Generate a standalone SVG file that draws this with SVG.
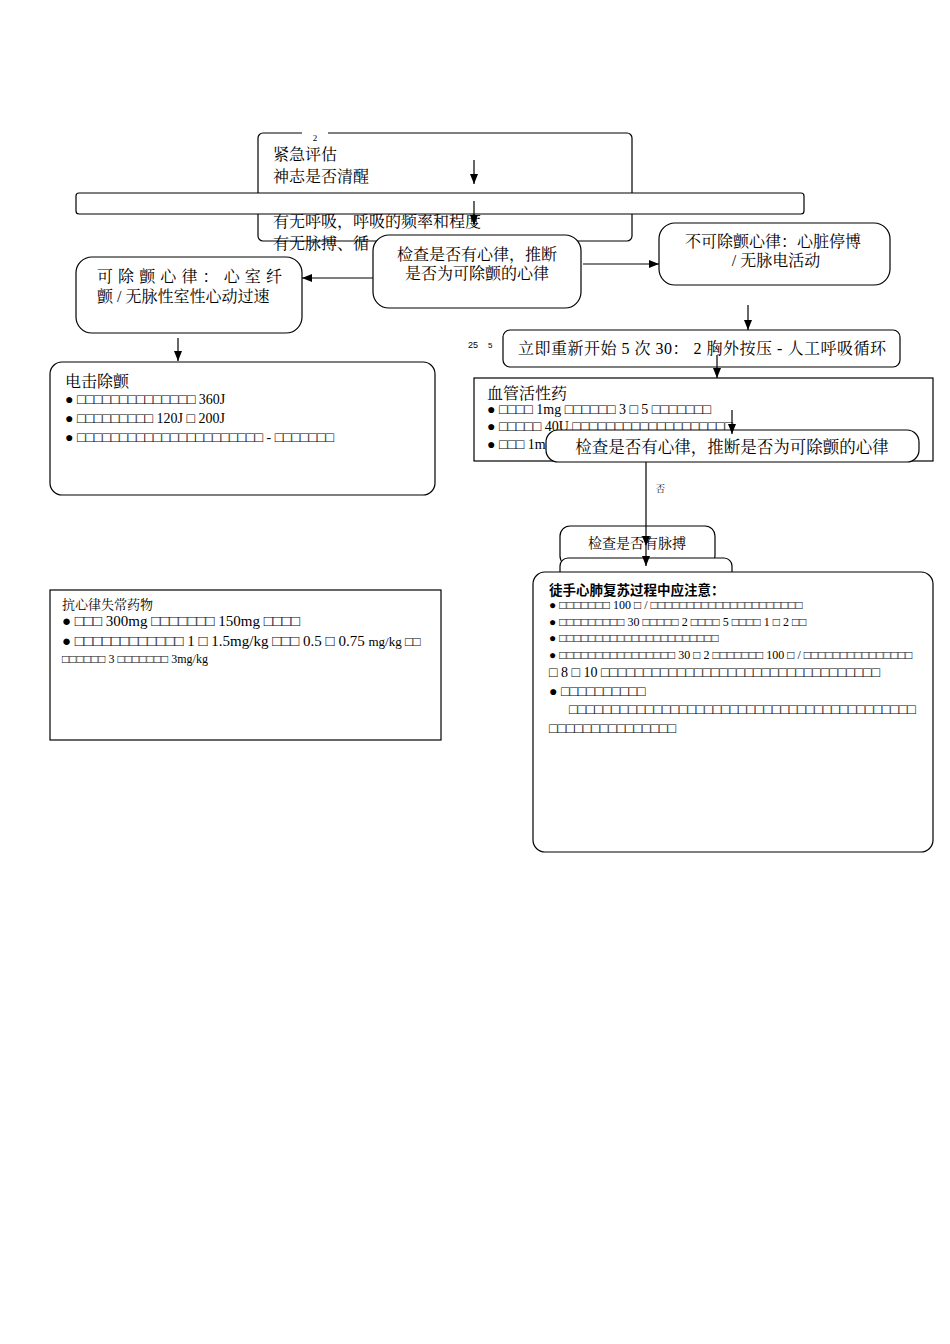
<svg xmlns="http://www.w3.org/2000/svg" width="950" height="1344" viewBox="0 0 950 1344">
<style>
.t{font-family:"Liberation Serif","Noto Serif CJK SC","Noto Sans CJK SC",serif;fill:#000}
.s{font-family:"Liberation Sans","Noto Sans CJK SC",sans-serif;fill:#000}
.box{fill:#fff;stroke:#000;stroke-width:1.2}
.ln{stroke:#000;stroke-width:1.2;fill:none}
.c{text-anchor:middle}
</style>
<defs>
<marker id="ah" markerUnits="userSpaceOnUse" markerWidth="10" markerHeight="10" viewBox="0 0 10 10" refX="10" refY="5" orient="auto">
<path d="M0,1 L10,5 L0,9 Z" fill="#000"/>
</marker>
</defs>
<rect width="950" height="1344" fill="#fff"/>
<g id="nodes">
<g id="n-assess">
<rect class="box" x="258" y="133" width="374" height="108" rx="5"/>
<rect x="302" y="130" width="26" height="6" fill="#fff"/>
<text class="t c" x="315" y="141" font-size="9">2</text>
<text class="t" x="273" y="160" font-size="16">紧急评估</text>
<text class="t" x="273" y="182" font-size="16">神志是否清醒</text>
<text class="t" x="273" y="227" font-size="16">有无呼吸，呼吸的频率和程度</text>
<text class="t" x="273" y="249" font-size="16">有无脉搏、循</text>
</g>
<g id="n-wide">
<rect class="box" x="76" y="193" width="728" height="21" rx="3"/>
</g>
<g id="n-check1">
<rect class="box" x="373" y="235" width="208" height="73" rx="16"/>
<text class="t c" x="477" y="260" font-size="16">检查是否有心律，推断</text>
<text class="t c" x="477" y="279" font-size="16">是否为可除颤的心律</text>
</g>
<g id="n-shockable">
<rect class="box" x="76" y="257" width="226" height="76" rx="16"/>
<text class="t" x="97" y="282" font-size="16" textLength="185" lengthAdjust="spacing">可除颤心律：心室纤</text>
<text class="t" x="97" y="302" font-size="16">颤 / 无脉性室性心动过速</text>
</g>
<g id="n-nonshockable">
<rect class="box" x="659" y="223" width="231" height="62" rx="16"/>
<text class="t c" x="773" y="247" font-size="16">不可除颤心律：心脏停博</text>
<text class="t c" x="776" y="266" font-size="16">/ 无脉电活动</text>
</g>
<g id="n-restart">
<text class="s" x="468" y="348" font-size="9">25</text>
<text class="s" x="488" y="348" font-size="8">5</text>
<rect class="box" x="503" y="330" width="397" height="37" rx="7"/>
<text class="t" x="518" y="354" font-size="16" textLength="368" lengthAdjust="spacing">立即重新开始 5 次 30： 2 胸外按压 - 人工呼吸循环</text>
</g>
<g id="n-vaso">
<rect class="box" x="474" y="378" width="459" height="83"/>
<text class="t" x="487" y="399" font-size="16">血管活性药</text>
<text class="t" x="487" y="414" font-size="14">● □□□□ 1mg □□□□□□ 3 □ 5 □□□□□□□</text>
<text class="t" x="487" y="431" font-size="14">● □□□□□ 40U □□□□□□□□□□□□□□□□□□□</text>
<text class="t" x="487" y="449" font-size="14">● □□□ 1m</text>
</g>
<g id="n-check2">
<rect class="box" x="546" y="430" width="373" height="32" rx="12"/>
<text class="t c" x="732" y="453" font-size="16.5">检查是否有心律，推断是否为可除颤的心律</text>
</g>
<g id="n-shock">
<rect class="box" x="50" y="362" width="385" height="133" rx="12"/>
<text class="t" x="65" y="387" font-size="16">电击除颤</text>
<text class="t" x="65" y="404" font-size="14">● □□□□□□□□□□□□□□ 360J</text>
<text class="t" x="65" y="423" font-size="14">● □□□□□□□□□ 120J □ 200J</text>
<text class="t" x="65" y="442" font-size="14">● □□□□□□□□□□□□□□□□□□□□□□ - □□□□□□□</text>
</g>
<g id="n-pulse">
<rect class="box" x="560" y="526" width="155" height="40" rx="10"/>
<text class="t c" x="637" y="548" font-size="14">检查是否有脉搏</text>
</g>
<g id="n-hidden">
<rect class="box" x="560" y="558" width="172" height="30" rx="8"/>
</g>
<g id="n-notes">
<rect class="box" x="533" y="572" width="400" height="280" rx="12"/>
<text class="s" x="549" y="595" font-size="13.5" font-weight="bold">徒手心肺复苏过程中应注意：</text>
<text class="t" x="549" y="609" font-size="12">● □□□□□□□ 100 □ / □□□□□□□□□□□□□□□□□□□□□</text>
<text class="t" x="549" y="626" font-size="12">● □□□□□□□□□ 30 □□□□□ 2 □□□□ 5 □□□□ 1 □ 2 □□</text>
<text class="t" x="549" y="642" font-size="12">● □□□□□□□□□□□□□□□□□□□□□□</text>
<text class="t" x="549" y="659" font-size="12">● □□□□□□□□□□□□□□□□ 30 □ 2 □□□□□□□ 100 □ / □□□□□□□□□□□□□□□</text>
<text class="t" x="549" y="677" font-size="14">□ 8 □ 10 □□□□□□□□□□□□□□□□□□□□□□□□□□□□□□□□□</text>
<text class="t" x="549" y="696" font-size="14">● □□□□□□□□□□</text>
<text class="t" x="569" y="714" font-size="14">□□□□□□□□□□□□□□□□□□□□□□□□□□□□□□□□□□□□□□□□□</text>
<text class="t" x="549" y="733" font-size="14">□□□□□□□□□□□□□□□</text>
</g>
<g id="n-antiarr">
<rect class="box" x="50" y="590" width="391" height="150"/>
<text class="t" x="62" y="609" font-size="13">抗心律失常药物</text>
<text class="t" x="62" y="626" font-size="15">● □□□ 300mg □□□□□□□ 150mg □□□□</text>
<text class="t" x="62" y="646" font-size="15">● □□□□□□□□□□□□ 1 □ 1.5mg/kg □□□ 0.5 □ 0.75 <tspan font-size="13">mg/kg □□</tspan></text>
<text class="t" x="62" y="663" font-size="12">□□□□□□ 3 □□□□□□□ 3mg/kg</text>
</g>
</g>
<g id="connectors">
<line class="ln" x1="474" y1="160" x2="474" y2="184" marker-end="url(#ah)"/>
<line class="ln" x1="474" y1="201" x2="474" y2="225" marker-end="url(#ah)"/>
<line class="ln" x1="373" y1="278" x2="302" y2="278" marker-end="url(#ah)"/>
<line class="ln" x1="583" y1="264" x2="659" y2="264" marker-end="url(#ah)"/>
<line class="ln" x1="748" y1="305" x2="748" y2="330" marker-end="url(#ah)"/>
<line class="ln" x1="178" y1="338" x2="178" y2="361" marker-end="url(#ah)"/>
<line class="ln" x1="717" y1="355" x2="717" y2="378" marker-end="url(#ah)"/>
<line class="ln" x1="732" y1="410" x2="732" y2="434" marker-end="url(#ah)"/>
<line class="ln" x1="646" y1="462" x2="646" y2="546" marker-end="url(#ah)"/>
<line class="ln" x1="646" y1="546" x2="646" y2="566" marker-end="url(#ah)"/>
<text class="t" x="656" y="492" font-size="9">否</text>
</g>
</svg>
